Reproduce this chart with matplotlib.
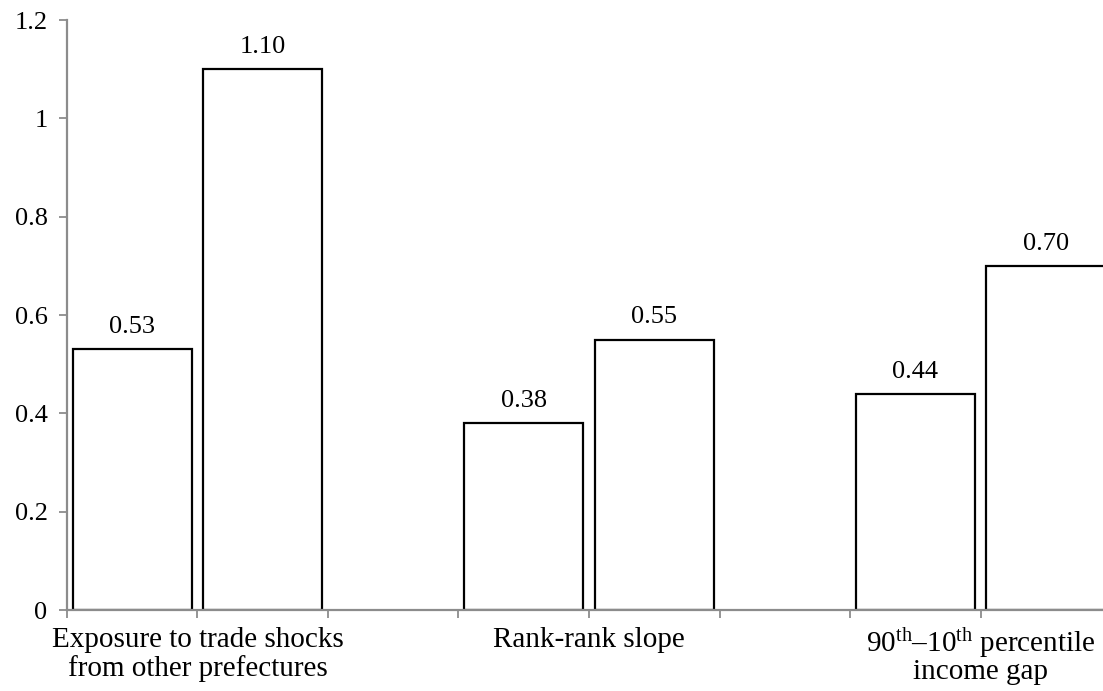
import numpy as np
import matplotlib
matplotlib.use("Agg")
import matplotlib.pyplot as plt

plt.rcParams['font.family'] = ['Liberation Serif', 'DejaVu Serif']
plt.rcParams['mathtext.fontset'] = 'custom'
plt.rcParams['mathtext.rm'] = 'Liberation Serif'
plt.rcParams['mathtext.it'] = 'Liberation Serif:italic'

# data: each group has two bars, one empty slot between groups
categories = ['Exposure to trade shocks\nfrom other prefectures',
              'Rank-rank slope',
              '90$^{\\mathrm{th}}$\u201310$^{\\mathrm{th}}$ percentile\nincome gap']
first_bar = [0.53, 0.38, 0.44]
second_bar = [1.10, 0.55, 0.70]

grey = '#8c8c8c'
fs = 19

fig = plt.figure(figsize=(11.03, 6.91), dpi=100)
ax = fig.add_axes([0.0607, 0.1172, 0.9466, 0.8538])

n = len(categories)
pos1 = np.arange(n) * 3
pos2 = pos1 + 1
w = 0.91

b1 = ax.bar(pos1, first_bar, width=w, color='white', edgecolor='black', linewidth=1.6)
b2 = ax.bar(pos2, second_bar, width=w, color='white', edgecolor='black', linewidth=1.6)

for bars, vals in [(b1, first_bar), (b2, second_bar)]:
    for rect, v in zip(bars, vals):
        ax.annotate('%.2f' % v, (rect.get_x() + rect.get_width() / 2, v),
                    xytext=(0, 8), textcoords='offset points',
                    ha='center', va='bottom', fontsize=fs)

nslots = 3 * n - 1
ax.set_xlim(-0.5, nslots - 0.5)
ax.set_ylim(0, 1.2)
ax.set_yticks(np.arange(0, 1.21, 0.2))
ax.set_yticklabels(['0', '0.2', '0.4', '0.6', '0.8', '1', '1.2'])

# slot boundary ticks; category names sit on the boundary between paired bars
xt = np.arange(-0.5, nslots, 1.0)
xl = [''] * len(xt)
for i, c in enumerate(categories):
    xl[3 * i + 1] = c
ax.set_xticks(xt)
labels = ax.set_xticklabels(xl, fontsize=21, linespacing=1.1)
labels[7].set_linespacing(0.92)  # mathtext line is taller already
ax.tick_params(axis='x', length=6, color=grey, width=1.3, pad=6)
ax.tick_params(axis='y', length=6, color=grey, width=1.3, labelsize=fs, pad=8)

for s in ['top', 'right']:
    ax.spines[s].set_visible(False)
for s in ['left', 'bottom']:
    ax.spines[s].set_color(grey)
    ax.spines[s].set_linewidth(1.6)

fig.savefig('out.png', dpi=100)
